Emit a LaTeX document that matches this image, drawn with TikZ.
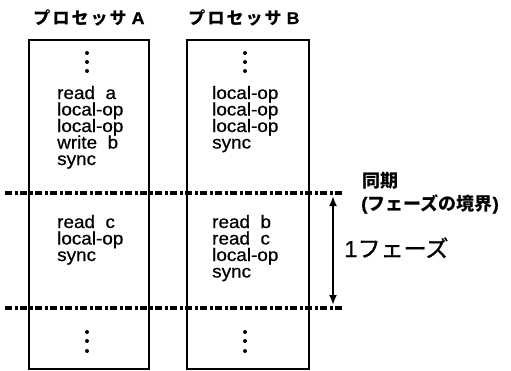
\documentclass[tikz,border=0pt]{standalone}
\usepackage{fontspec}
\usetikzlibrary{arrows.meta}
\setmainfont{Liberation Sans}[FakeStretch=1.05, FakeBold=0.6]
\newfontfamily\jafont{Noto Sans CJK JP}
\begin{document}
\begin{tikzpicture}[x=1pt,y=-1pt,
  frame/.style={draw, line width=2pt, inner sep=0pt, anchor=north west},
  op/.style={anchor=base west, inner sep=0pt, font=\fontsize{18}{18}\selectfont},
  head/.style={anchor=base, inner sep=0pt, font=\fontsize{17}{17}\selectfont\bfseries},
  note/.style={anchor=base west, inner sep=0pt, font=\fontsize{18}{18}\selectfont},
  syncline/.style={line width=3.6pt, dash pattern=on 7pt off 2.5pt on 3pt off 2.5pt},
  phase/.style={line width=2.2pt, {Latex[length=10pt,width=8pt]}-{Latex[length=10pt,width=8pt]}},
  dot/.style={fill=black}]
\useasboundingbox (0,0) rectangle (511,370);

% processor columns
\node[frame, minimum width=120pt, minimum height=329pt] (procA) at (28,39) {};
\node[frame, minimum width=122pt, minimum height=329pt] (procB) at (186,39) {};

% column headings
\node[head] (headA) at (89,24) {{\jafont\addfontfeature{LetterSpace=12}プロセッサ} A};
\node[head] (headB) at (244,24) {{\jafont\addfontfeature{LetterSpace=12}プロセッサ} B};

% vertical ellipses
\foreach \cx in {87,245}{
  \foreach \cy in {53,62,71,332,341,351}{
    \fill[dot] (\cx,\cy) circle (2pt);
  }
}

% instruction streams, processor A
\node[op] (a1) at (57,99)  {read\ \ a};
\node[op] (a2) at (57,115.5) {local-op};
\node[op] (a3) at (57,132) {local-op};
\node[op] (a4) at (57,148.5) {write\ \ b};
\node[op] (a5) at (57,165) {sync};
\node[op] (a6) at (57,228) {read\ \ c};
\node[op] (a7) at (57,244.5) {local-op};
\node[op] (a8) at (57,261) {sync};

% instruction streams, processor B
\node[op] (b1) at (212,99)  {local-op};
\node[op] (b2) at (212,115.5) {local-op};
\node[op] (b3) at (212,132) {local-op};
\node[op] (b4) at (212,148.5) {sync};
\node[op] (b5) at (212,228) {read\ \ b};
\node[op] (b6) at (212,244.5) {read\ \ c};
\node[op] (b7) at (212,261) {local-op};
\node[op] (b8) at (212,277.5) {sync};

% synchronisation barriers
\coordinate (s1w) at (5,193);
\coordinate (s1e) at (343,193);
\coordinate (s2w) at (5,308);
\coordinate (s2e) at (343,308);
\draw[syncline] (s1w) -- (s1e);
\draw[syncline] (s2w) -- (s2e);

% one phase
\coordinate (p1) at (333,196);
\coordinate (p2) at (333,305);
\draw[phase] (p1) -- (p2);

% annotations
\node[note] (sync) at (362,187) {\jafont\bfseries 同期};
\node[note] (border) at (361,210) {\bfseries(\jafont フェーズの境界\rmfamily)};
\node[anchor=base west, inner sep=0pt, font=\fontsize{23}{23}\selectfont] (onephase) at (344,257) {1{\jafont\addfontfeature{FakeBold=1.2}フェーズ}};
\end{tikzpicture}
\end{document}
